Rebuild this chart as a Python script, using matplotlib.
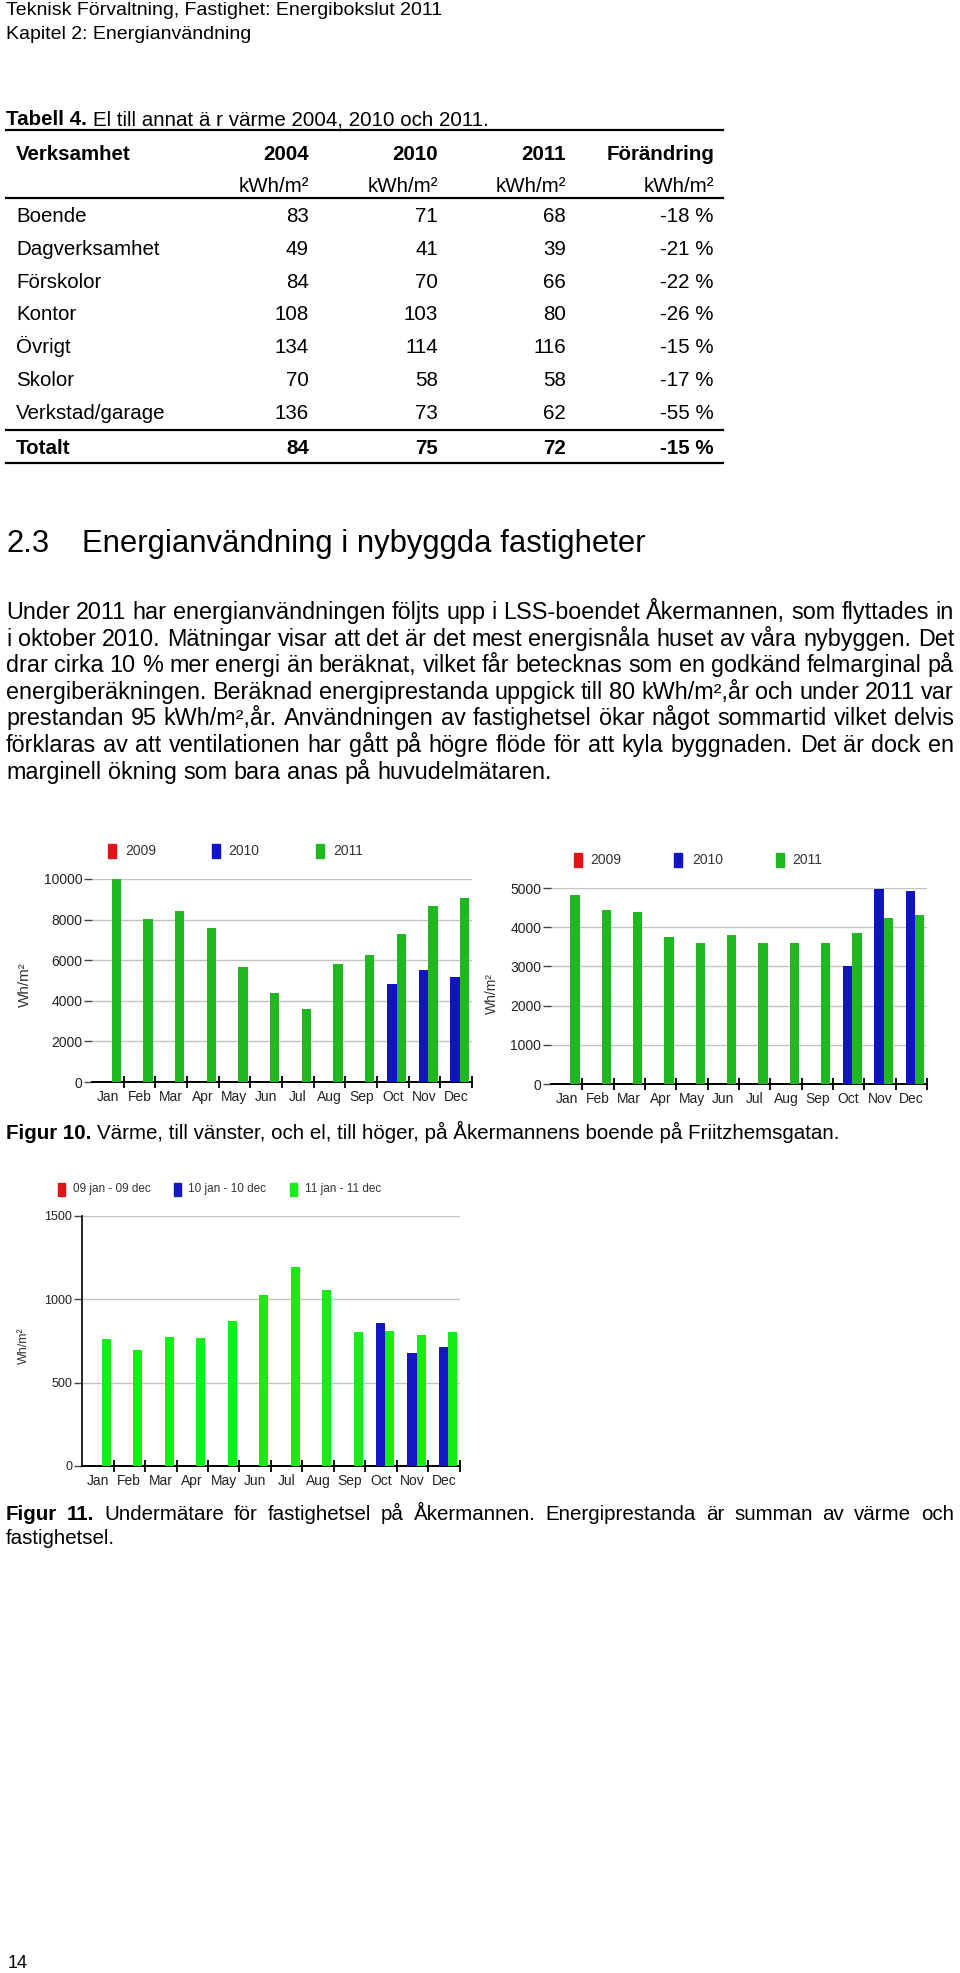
import numpy as np
import matplotlib.pyplot as plt
from matplotlib.patches import Rectangle

plt.rcParams['font.family'] = ['Liberation Sans', 'DejaVu Sans']

# ---- Tabell 4 ----
verksamhet = ['Boende', 'Dagverksamhet', 'Förskolor', 'Kontor', 'Övrigt', 'Skolor', 'Verkstad/garage']
el_2004 = [83, 49, 84, 108, 134, 70, 136]
el_2010 = [71, 41, 70, 103, 114, 58, 73]
el_2011 = [68, 39, 66, 80, 116, 58, 62]
forandring = [-18, -21, -22, -26, -15, -17, -55]
totalt = [84, 75, 72, -15]
kolumner = ['Verksamhet', '2004', '2010', '2011', 'Förändring']

# ---- Figur 10 / 11 ----
months = ['Jan', 'Feb', 'Mar', 'Apr', 'May', 'Jun', 'Jul', 'Aug', 'Sep', 'Oct', 'Nov', 'Dec']
years = ['2009', '2010', '2011']
periods = ['09 jan - 09 dec', '10 jan - 10 dec', '11 jan - 11 dec']
varme_2010 = [0, 0, 0, 0, 0, 0, 0, 0, 0, 4850, 5520, 5150]
varme_2011 = [9980, 8050, 8400, 7600, 5650, 4400, 3600, 5800, 6250, 7300, 8680, 9060]
el_ak_2010 = [0, 0, 0, 0, 0, 0, 0, 0, 0, 3000, 4970, 4930]
el_ak_2011 = [4810, 4430, 4380, 3750, 3600, 3810, 3590, 3590, 3600, 3850, 4230, 4310]
fastel_2010 = [0, 0, 0, 0, 0, 0, 0, 0, 0, 861, 679, 715]
fastel_2011 = [760, 695, 775, 770, 873, 1025, 1192, 1057, 807, 813, 789, 807]

body = [
    "Under 2011 har energianvändningen följts upp i LSS-boendet Åkermannen, som flyttades in",
    "i oktober 2010. Mätningar visar att det är det mest energisnåla huset av våra nybyggen. Det",
    "drar cirka 10 % mer energi än beräknat, vilket får betecknas som en godkänd felmarginal på",
    "energiberäkningen. Beräknad energiprestanda uppgick till 80 kWh/m²,år och under 2011 var",
    "prestandan 95 kWh/m²,år. Användningen av fastighetsel ökar något sommartid vilket delvis",
    "förklaras av att ventilationen har gått på högre flöde för att kyla byggnaden. Det är dock en",
    "marginell ökning som bara anas på huvudelmätaren.",
]

W, H = 960, 1973
fig = plt.figure(figsize=(W / 100, H / 100), dpi=100)
page = fig.add_axes([0, 0, 1, 1])
page.set_xlim(0, W)
page.set_ylim(H, 0)
page.axis('off')
renderer = fig.canvas.get_renderer()


def line(y, runs, size, x0=6, x1=954, justify=True):
    # runs: list of (text, weight); justified lines spread the runs across x0..x1
    texts = [page.text(0, y, w, fontsize=size, fontweight=wt, va='baseline') for w, wt in runs]
    widths = [t.get_window_extent(renderer).width for t in texts]
    if justify and len(texts) > 1:
        gap = (x1 - x0 - sum(widths)) / (len(texts) - 1)
    else:
        gap = size * 100 / 72 * 0.278
    x = x0
    for t, w in zip(texts, widths):
        t.set_x(x)
        x += w + gap


# header
page.text(6, 15, 'Teknisk Förvaltning, Fastighet: Energibokslut 2011', fontsize=14, va='baseline')
page.text(6, 39, 'Kapitel 2: Energianvändning', fontsize=14, va='baseline')

# table
ts = 14.8
line(125, [('Tabell 4.', 'bold'), ('El till annat ä r värme 2004, 2010 och 2011.', 'normal')], ts, justify=False)
for yy in [130, 198, 430, 463]:
    page.plot([6, 723], [yy, yy], color='black', lw=1.6)
col_x = [309, 438, 566, 714]
page.text(16, 160, kolumner[0], fontsize=ts, fontweight='bold', va='baseline')
for cx, k in zip(col_x, kolumner[1:]):
    page.text(cx, 160, k, fontsize=ts, fontweight='bold', va='baseline', ha='right')
    page.text(cx, 192, 'kWh/m²', fontsize=ts, va='baseline', ha='right')
for i, name in enumerate(verksamhet):
    yy = 222 + i * 32.8
    page.text(16, yy, name, fontsize=ts, va='baseline')
    vals = [str(el_2004[i]), str(el_2010[i]), str(el_2011[i]), f'{forandring[i]} %']
    for cx, v in zip(col_x, vals):
        page.text(cx, yy, v, fontsize=ts, va='baseline', ha='right')
page.text(16, 454, 'Totalt', fontsize=ts, fontweight='bold', va='baseline')
for cx, v in zip(col_x, [str(t) for t in totalt[:3]] + [f'{totalt[3]} %']):
    page.text(cx, 454, v, fontsize=ts, fontweight='bold', va='baseline', ha='right')

# section heading + body
page.text(6, 552, '2.3', fontsize=22.3, va='baseline')
page.text(82, 552, 'Energianvändning i nybyggda fastigheter', fontsize=22.3, va='baseline')
for i, s in enumerate(body):
    line(619 + i * 26.6, [(w, 'normal') for w in s.split()], 16.8, justify=(i < len(body) - 1))

# captions
line(1139, [('Figur 10.', 'bold'),
            ('Värme, till vänster, och el, till höger, på Åkermannens boende på Friitzhemsgatan.', 'normal')],
     ts, justify=False)
line(1520, [('Figur', 'bold'), ('11.', 'bold')] +
     [(w, 'normal') for w in 'Undermätare för fastighetsel på Åkermannen. Energiprestanda är summan av värme och'.split()],
     ts)
line(1544, [('fastighetsel.', 'normal')], ts, justify=False)
page.text(8, 1968, '14', fontsize=13, va='baseline')


def chart(x0, ytop, x1, ybot, ymax, step, s2010, s2011, cols, left_spine, ylab, ylab_xy, ylab_size, ysize):
    ax = fig.add_axes([x0 / W, 1 - ybot / H, (x1 - x0) / W, (ybot - ytop) / H])
    x = np.arange(len(months))
    ax.bar(x - 0.03, s2010, width=0.3, color=cols[1], zorder=3)
    ax.bar(x + 0.27, s2011, width=0.3, color=cols[2], zorder=3)
    ax.set_xlim(-0.5, 11.5)
    ax.set_ylim(0, ymax)
    ax.set_yticks(np.arange(0, ymax + 1, step))
    ax.yaxis.grid(True, color='#c4c4c4', lw=1)
    ax.set_axisbelow(True)
    for sp in ['top', 'right']:
        ax.spines[sp].set_visible(False)
    ax.spines['left'].set_visible(left_spine)
    ax.spines['left'].set_linewidth(1.2)
    ax.spines['bottom'].set_linewidth(1.4)
    ax.set_xticks(x)
    ax.set_xticklabels(months, fontsize=10, color='#222')
    ax.set_xticks(np.arange(0.5, 12, 1), minor=True)
    ax.tick_params(axis='x', which='major', length=0, pad=6)
    ax.tick_params(axis='x', which='minor', length=9, direction='inout', width=1.3)
    ax.tick_params(axis='y', length=6, width=1, color='#444', labelsize=ysize, labelcolor='#222', pad=1)
    page.text(ylab_xy[0], ylab_xy[1], ylab, rotation=90, fontsize=ylab_size, color='#333',
              ha='center', va='center')
    return ax


c12 = ['#e01418', '#1212c8', '#20b820']
c3 = ['#e01418', '#1616c4', '#16ec16']
chart(92, 879, 472, 1082, 10000, 2000, varme_2010, varme_2011, c12, False, 'Wh/m²', (25, 985), 11, 10)
chart(551, 888, 927, 1084, 5000, 1000, el_ak_2010, el_ak_2011, c12, False, 'Wh/m²', (492, 993), 10, 10)
chart(82, 1216, 460, 1466, 1500, 500, fastel_2010, fastel_2011, c3, True, 'Wh/m²', (24, 1346), 9, 9)


def legend(yc, sq_x, txt_x, labels, cols, size, sqw=8, sqh=14):
    for sx, tx, lab, c in zip(sq_x, txt_x, labels, cols):
        page.add_patch(Rectangle((sx, yc - sqh / 2), sqw, sqh, color=c))
        page.text(tx, yc, lab, fontsize=size, color='#333', va='center')


legend(851, [108, 212, 316], [125, 228, 333], years, c12, 10)
legend(860, [574, 674, 776], [590, 692, 792], years, c12, 10)
legend(1189, [58, 174, 290], [73, 188, 305], periods, c3, 8.5, sqw=7, sqh=13)

fig.savefig('out.png', dpi=100)
